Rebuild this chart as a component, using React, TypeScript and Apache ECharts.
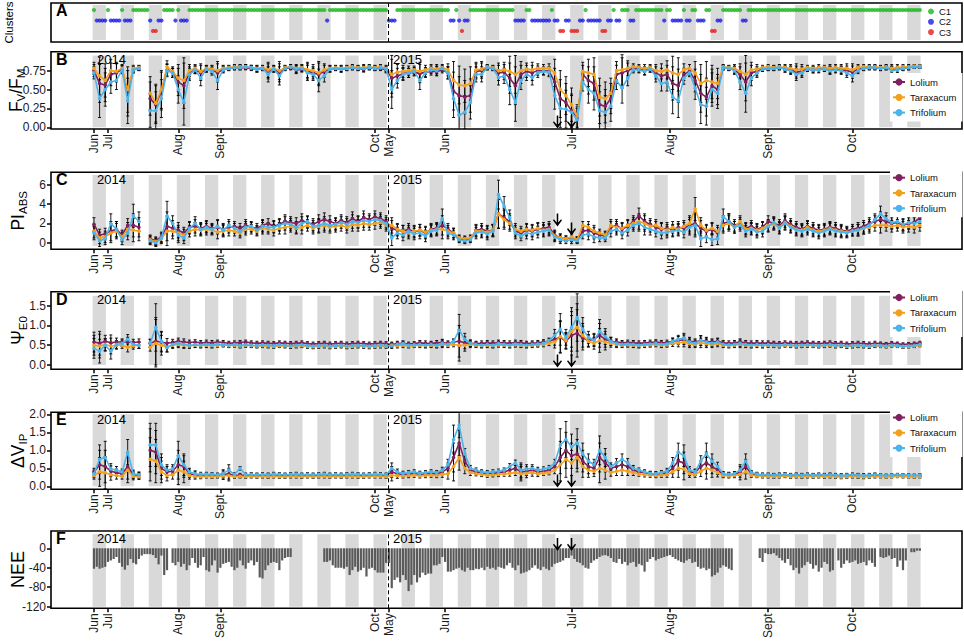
import React, { useEffect, useRef } from "react";
import * as echarts from "echarts";

const FONT = "'Liberation Sans', Arial, Helvetica, sans-serif";

// ---------- axis / category data ----------
// x = index of measurement day (0..294); line panels are read on every 2nd day
const monthTickIdx = [0, 5, 30, 45, 100, 105, 125, 170, 205, 240, 270];
const monthTickLabels = ["Jun", "Jul", "Aug", "Sept", "Oct", "May", "Jun", "Jul", "Aug", "Sept", "Oct"];
const yearBreakIdx = 104.6;
const arrowIdx = [165, 170];
const species = ["Lolium", "Taraxacum", "Trifolium"];
const speciesColors = ["#80205E", "#F3A01D", "#4DB4EA"];
const clusterNames = ["C1", "C2", "C3"];
const clusterColors = ["#1CB81C", "#1C1CE8", "#E81C1C"];
// [cluster, number of consecutive days]
const clusterRuns = [
  [1, 1], [2, 4], [1, 1], [2, 4], [1, 1], [2, 3], [1, 6], [2, 1], [3, 2], [2, 2], [1, 4], [2, 1], [1, 1], [2, 3],
  [1, 49], [2, 1], [1, 21], [2, 3], [1, 19], [2, 2], [1, 1], [2, 1], [3, 1], [2, 2], [1, 16], [2, 4], [1, 2],
  [2, 7], [1, 1], [2, 2], [3, 2], [2, 2], [3, 3], [2, 2], [1, 1], [2, 5], [3, 2], [2, 2], [1, 1], [2, 2], [1, 3],
  [2, 2], [1, 10], [2, 1], [1, 2], [2, 4], [1, 1], [2, 2], [1, 2], [2, 3], [1, 2], [3, 2], [2, 2], [1, 7], [2, 2],
  [1, 62],
];

// ---------- B: Fv/Fm (x100) ----------
const fvfmLolium = [75,58,56,70,72,77,45,76,78,null,38,30,48,76,72,60,55,72,76,72,77,76,72,77,78,79,79,79,78,77,78,74,77,72,78,79,76,77,74,72,70,74,77,78,77,78,79,78,77,79,78,78,76,65,68,71,72,73,71,73,74,74,76,72,48,42,40,42,74,75,79,78,72,73,65,55,70,74,72,75,75,74,60,38,33,22,12,70,62,58,30,28,38,70,72,75,78,77,75,77,72,68,70,58,55,70,74,62,45,40,55,50,79,78,76,70,60,72,74,77,78,78,79,77,76,73,74,77,76,77,77,76,77,76,75,73,77,78,79,79,78,79,76,77,78,79,80,80];
const fvfmTaraxacum = [78,68,62,75,74,78,50,78,79,null,45,32,50,80,74,65,62,75,78,74,78,77,75,78,79,80,80,80,79,78,79,76,78,75,79,80,78,79,76,75,72,76,78,79,78,79,80,79,79,80,79,80,78,70,73,74,75,76,74,76,78,77,79,76,62,56,55,58,76,77,80,79,75,76,74,70,75,77,76,78,78,78,72,50,42,30,15,74,72,70,40,38,45,75,76,78,80,79,78,79,75,74,76,72,70,76,78,72,58,62,60,58,80,79,78,74,70,76,77,79,80,79,80,79,78,76,77,79,78,79,79,78,79,78,78,76,79,80,80,80,79,80,78,79,80,80,81,81];
const fvfmTrifolium = [72,38,50,60,62,76,35,76,78,null,22,22,38,75,72,50,33,70,76,65,77,74,62,76,78,79,79,80,79,77,78,70,77,68,78,80,77,78,72,70,62,68,77,78,77,78,79,78,78,79,78,79,77,50,62,70,72,74,62,72,76,75,78,72,38,16,20,33,70,70,79,78,66,68,50,33,62,70,66,72,74,73,42,25,24,20,10,60,50,45,22,20,28,62,52,65,76,76,74,77,68,58,60,40,35,65,72,52,30,28,50,45,79,78,75,60,45,65,72,77,78,78,79,77,75,70,72,77,76,76,77,75,76,75,72,68,75,78,79,79,78,79,75,76,78,79,80,80];
const fvfmErr = [8,25,22,15,12,5,30,4,3,3,22,25,25,8,6,18,30,8,5,10,4,5,12,4,3,3,3,3,3,4,3,10,4,12,3,3,5,4,10,8,15,8,4,3,4,3,3,3,4,3,3,3,4,25,10,8,6,5,12,6,5,6,4,8,25,25,22,22,10,10,3,3,10,10,20,25,12,8,10,6,5,6,18,25,25,22,15,12,18,22,25,22,20,12,20,10,4,4,5,4,8,10,12,22,22,8,5,15,25,25,22,20,3,3,5,10,25,10,6,3,3,3,3,4,5,8,6,3,4,4,3,5,4,5,6,8,4,3,3,3,3,3,5,4,3,3,2,2];

// ---------- C: PI_ABS (x10) ----------
const piLolium = [19,8,9,12,14,8,18,18,16,null,4,2,6,17,15,13,10,16,17,15,17,15,16,14,16,17,15,18,16,15,18,20,17,19,22,21,20,23,21,19,22,24,22,20,23,21,25,22,26,24,27,25,22,15,13,12,14,11,13,10,14,15,18,14,10,4,3,4,13,14,12,13,30,26,22,12,10,13,12,14,15,16,8,5,4,5,3,12,13,10,8,7,16,18,14,17,22,28,22,19,16,14,15,13,16,15,18,20,15,12,14,10,20,22,18,20,15,17,14,16,22,20,18,23,19,16,14,17,15,13,14,16,15,13,12,14,15,17,20,22,24,22,20,21,18,20,21,26];
const piTaraxacum = [12,5,6,10,12,6,14,13,12,null,3,1,4,12,12,10,8,12,14,13,14,13,11,12,13,12,10,14,14,12,15,14,13,15,16,17,15,16,18,15,17,18,16,17,18,16,19,18,20,19,20,21,18,18,14,12,10,12,13,11,13,14,14,12,10,5,4,5,12,12,11,13,30,24,20,14,12,14,13,15,13,14,7,5,4,6,3,18,16,12,10,8,18,16,15,18,20,22,20,17,18,15,13,16,14,17,20,35,18,13,15,12,18,20,16,22,14,15,13,15,18,19,16,21,17,14,13,16,13,12,13,15,13,12,11,12,13,15,16,18,18,18,17,18,16,17,16,18];
const piTrifolium = [10,2,4,20,14,3,10,28,22,null,2,0,5,28,20,8,5,15,20,14,16,14,17,13,18,15,12,16,17,13,17,16,16,18,20,19,16,20,22,17,18,20,18,19,21,19,22,21,23,22,24,23,20,5,10,8,12,9,10,7,12,13,25,10,8,3,2,3,10,11,9,12,50,38,26,10,7,10,9,11,12,13,6,3,2,3,2,8,9,6,5,5,12,14,10,13,18,20,16,14,12,10,11,12,13,11,16,18,4,6,3,4,27,22,16,18,12,14,11,12,17,21,15,20,16,13,12,14,12,10,12,14,12,11,10,12,13,15,18,24,30,25,21,22,19,21,20,22];
const piErr = [7,6,6,10,8,5,7,12,10,14,4,4,5,15,8,8,6,6,7,6,6,5,7,6,6,5,5,6,5,5,6,5,6,6,7,6,6,7,6,6,7,7,6,6,6,6,7,6,7,6,6,6,6,8,6,6,6,6,6,6,6,6,10,6,5,3,3,3,6,6,6,6,15,10,8,6,5,6,6,6,6,6,5,4,3,4,3,4,6,6,4,4,6,6,6,6,6,8,8,6,6,6,6,6,6,6,8,12,8,6,6,6,8,8,6,6,6,6,6,6,6,6,6,7,6,6,6,6,6,6,6,6,6,6,5,5,6,6,6,6,8,6,6,6,6,6,6,6];

// ---------- D: Psi_E0 (x100) ----------
const psiLolium = [58,55,60,56,58,58,58,57,58,null,55,60,58,55,57,60,58,57,58,56,57,56,58,57,55,56,57,58,56,55,56,55,54,56,55,54,55,56,54,53,54,55,53,54,55,53,54,55,54,53,54,55,54,52,54,55,53,54,56,55,54,56,57,55,58,60,56,55,54,55,56,55,57,56,55,57,56,54,55,56,58,60,65,70,60,75,80,68,62,65,75,65,60,58,56,57,56,55,56,57,58,56,57,60,62,64,60,58,62,60,58,60,56,55,56,58,56,55,56,55,56,55,54,56,55,54,55,56,55,54,55,56,54,55,53,54,55,54,53,55,54,53,55,54,52,53,54,56];
const psiTaraxacum = [50,48,52,48,50,50,45,48,50,null,45,55,50,45,50,52,50,48,50,49,50,49,50,51,49,50,48,50,49,48,49,48,47,49,48,47,48,49,47,46,47,48,46,47,48,46,47,48,47,46,47,48,47,50,49,50,48,49,50,49,50,49,52,50,52,50,50,52,50,49,50,49,51,50,49,51,50,49,50,51,52,55,58,72,62,85,95,75,60,55,62,58,55,52,50,51,50,49,50,51,52,50,51,55,56,58,54,52,56,54,52,54,50,49,50,52,50,49,50,49,50,49,48,50,49,48,49,50,49,48,49,50,48,49,47,48,49,48,47,49,48,47,49,48,46,47,48,50];
const psiTrifolium = [42,35,50,35,52,55,65,52,50,null,55,95,60,45,52,55,52,50,51,50,52,50,53,51,50,52,49,51,50,49,51,50,49,51,50,48,50,51,49,48,49,50,48,49,50,48,49,50,49,48,49,50,49,48,52,54,50,51,52,50,52,50,55,52,60,88,65,55,52,50,52,50,54,52,50,53,52,50,52,53,55,62,75,90,70,95,120,90,70,62,85,72,60,55,52,53,52,50,52,53,55,52,53,60,65,68,58,55,62,58,55,58,52,51,52,55,52,50,52,50,51,50,49,52,50,49,50,51,50,49,50,52,49,50,48,49,50,49,48,50,49,48,50,49,47,48,49,52];
const psiErr = [25,30,15,20,10,8,12,8,8,10,10,60,25,12,8,8,8,6,6,6,6,6,5,5,5,5,5,5,5,5,5,5,5,5,5,5,5,5,5,5,5,5,5,5,5,5,5,5,5,5,5,5,5,6,6,6,5,5,6,6,6,6,8,6,6,40,15,8,6,6,6,6,6,6,6,6,6,6,6,6,6,6,15,40,20,50,60,30,15,15,30,20,10,8,6,6,6,6,6,6,6,6,6,8,10,12,10,8,12,10,8,8,6,6,6,8,6,6,6,6,5,5,5,5,5,5,5,5,5,5,5,5,5,5,5,5,5,5,5,5,4,4,4,4,4,4,4,4];

// ---------- E: Delta V_IP (x100) ----------
const dvLolium = [40,60,55,42,38,35,55,32,30,null,100,95,50,40,42,60,55,35,32,30,32,31,30,33,35,30,31,30,31,30,31,30,32,31,30,31,32,30,31,30,31,32,30,31,30,31,32,31,30,31,32,31,30,40,35,33,34,36,33,35,36,34,40,50,80,120,70,45,40,38,35,36,38,40,45,50,40,42,45,40,42,45,55,80,100,85,90,70,55,50,80,65,50,55,60,55,45,40,38,35,33,35,38,50,70,65,40,38,55,65,55,45,33,32,33,40,55,35,32,31,31,30,31,32,30,31,30,31,30,31,30,31,30,29,30,31,30,29,30,31,30,29,30,31,30,30,29,30];
const dvTaraxacum = [30,40,38,32,30,28,45,28,27,null,75,70,40,30,32,45,40,30,28,27,28,27,28,29,30,27,28,27,28,27,28,27,28,27,27,28,28,27,28,27,28,28,27,28,27,28,28,27,27,28,28,28,27,30,30,29,30,31,29,30,31,30,33,35,55,80,50,38,35,33,31,32,33,34,36,38,35,36,38,35,36,38,45,60,75,65,80,55,45,42,50,45,38,42,45,42,38,34,32,31,30,31,33,40,50,48,35,33,42,50,45,38,30,29,30,33,40,31,29,28,28,27,28,29,27,28,27,28,27,28,27,28,27,26,27,28,27,26,27,28,27,26,27,28,27,27,26,27];
const dvTrifolium = [35,75,80,48,45,40,95,35,32,null,115,115,60,45,48,85,60,40,35,33,34,33,32,36,45,33,50,32,33,32,33,32,34,33,32,33,34,32,33,32,33,34,32,33,32,33,34,33,32,33,34,33,32,50,40,36,38,40,36,38,40,38,45,60,130,170,90,50,45,40,38,40,42,45,55,65,45,48,50,45,48,52,65,115,130,110,120,90,70,60,100,80,55,65,75,65,50,45,40,36,35,38,42,65,95,85,45,40,70,90,70,55,35,33,35,45,70,38,34,32,32,31,32,33,31,32,31,32,31,32,31,32,31,30,31,32,31,30,31,32,31,30,31,32,31,31,30,31];
const dvErr = [10,40,45,15,10,8,35,10,8,8,60,60,30,15,12,40,30,10,8,6,5,5,5,10,15,5,5,5,5,5,5,5,5,5,5,5,5,5,5,5,5,5,5,5,5,5,5,5,5,5,5,5,5,15,8,6,6,6,6,6,6,6,8,15,40,35,15,8,6,6,6,6,6,6,8,8,20,12,10,8,6,6,10,45,50,35,40,30,20,15,40,25,10,12,15,12,8,6,6,6,6,6,8,15,25,30,10,8,15,30,20,12,6,6,6,15,20,6,5,5,5,5,5,5,5,5,5,5,5,5,5,5,5,5,5,5,5,5,5,5,4,4,4,4,4,4,4,4];

// ---------- F: NEE, every day ----------
const neeValues = [
  -42,-38,-42,-40,-38,-28,-25,-22,-18,-30, -38,-44,-35,-22,-30,-33,-22,-15,-12,-12,
  -12,-14,-20,-33,-15,-55,-45,null,-30,-35, -28,-38,-32,-45,-35,-20,-30,-40,-35,-18,
  -45,-48,-35,-25,-50,-40,-32,-30,-28,-38, -45,-40,-25,-35,-42,-30,-25,-35,-28,-60,
  -62,-45,-35,-30,-28,-30,-45,-25,-20,-18, -18,null,null,null,null,null,null,null,null,null,
  null,null,-28,-28,-25,-35,-40,-40,-40,-42, -38,-55,-45,-38,-48,-45,-40,-58,-42,-40,
  -45,-50,-50,-50,-30,-30,-82,-65,-60,-70, -55,-65,-88,-75,-55,-70,-60,-50,-55,-52,
  -52,-35,-35,-32,-18,-28,-48,-48,-45,-42, -40,-45,-48,-40,-45,-45,-42,-43,-40,-45,
  -38,-42,-40,-44,-38,-40,-42,-35,-30,-40, -45,-35,-52,-50,-48,-45,-40,-35,-42,-45,
  -38,-42,-45,-38,-32,-30,-28,-25,-20,-20, -15,-22,-28,-30,-35,-40,-42,-30,-25,-22,
  -18,-15,-14,-16,-20,-28,-30,-22,-32,-28, -35,-30,-28,-38,-32,-35,-48,-28,-22,-18,
  -25,-22,-20,-18,-16,-14,-18,-22,-25,-28, -30,-25,-22,-30,-28,-38,-42,-40,-45,-42,
  -58,-55,-50,-40,-35,-38,-42,-45,null,null, null,null,null,null,null,null,null,-20,-28,-10,
  -12,-12,-10,-15,-20,-25,-30,-22,-35,-45, -40,-52,-40,-35,-28,-32,-42,-35,-48,-40,
  -28,-32,-48,-45,null,-25,-40,-32,-25,-30, -28,-25,-32,-30,-28,-35,-25,-30,-38,null,
  -18,-20,-18,-15,-22,-20,-38,-25,-45,-25, null,-8,-8,-5,-5,
];

// ---------- layout ----------
const XMIN = -15.3;
const XMAX = 309;
const GL = 51;
const GW = 911;
const ARROW = "path://M-0.8,0 L0.8,0 L0.8,8 L3.6,5 L4.6,6 L0,11.5 L-4.6,6 L-3.6,5 L-0.8,8 Z";

const linePanels = [
  { letter: "B", top: 51.7, height: 77.3, min: -0.022, max: 1.0, ticks: [0, 0.25, 0.5, 0.75], dec: 2, scale: 100,
    data: [fvfmLolium, fvfmTaraxacum, fvfmTrifolium], err: fvfmErr, title: "{m|F}{s|V}{m|/F}{s|M}", titleX: 16,
    legendTop: 73, band: [0, 0.95], arrowY: [0.07, 0.07] },
  { letter: "C", top: 172.3, height: 77, min: -0.69, max: 7.32, ticks: [0, 2, 4, 6], dec: 0, scale: 10,
    data: [piLolium, piTaraxacum, piTrifolium], err: piErr, title: "{m|PI}{s|ABS}", titleX: 18,
    legendTop: 168.7, band: [-0.35, 7.05], arrowY: [2.36, 1.43] },
  { letter: "D", top: 291.7, height: 77.6, min: -0.109, max: 1.854, ticks: [0, 0.5, 1, 1.5], dec: 1, scale: 100,
    data: [psiLolium, psiTaraxacum, psiTrifolium], err: psiErr, title: "{m|Ψ}{s|E0}", titleX: 18,
    legendTop: 288.5, band: [0, 1.75], arrowY: [0.1, 0.1] },
  { letter: "E", top: 412.3, height: 77, min: -0.083, max: 2.056, ticks: [0, 0.5, 1, 1.5, 2], dec: 1, scale: 100,
    data: [dvLolium, dvTaraxacum, dvTrifolium], err: dvErr, title: "{m|ΔV}{s|IP}", titleX: 18,
    legendTop: 408.5, band: [0, 2.0], arrowY: [0.147, 0.147] },
];

const titleRich = {
  m: { fontSize: 17.5, fontFamily: FONT, fill: "#000", lineHeight: 22 },
  s: { fontSize: 11.5, fontFamily: FONT, fill: "#000", lineHeight: 5, verticalAlign: "bottom" },
};

function buildOption() {
  const grids: any[] = [];
  const xAxes: any[] = [];
  const yAxes: any[] = [];
  const series: any[] = [];
  const legends: any[] = [];
  const graphics: any[] = [];

  const bandSpans: number[][] = [];
  for (let k = 0; k < 30; k++) bandSpans.push([10 * k - 0.5, 10 * k + 4.25]);

  const addGrid = (top: number, height: number) => {
    grids.push({ left: GL, top, width: GW, height, show: true, borderColor: "#000", borderWidth: 1.6, backgroundColor: "#fff" });
  };
  const xAxisFor = (g: number, labels: boolean) => ({
    gridIndex: g, type: "value", min: XMIN, max: XMAX,
    axisLine: { show: false, onZero: false }, splitLine: { show: false },
    axisTick: { show: labels, customValues: monthTickIdx, length: 4, lineStyle: { color: "#000", width: 1.5 } },
    axisLabel: {
      show: labels, customValues: monthTickIdx, rotate: 90, margin: 5, fontSize: 12, color: "#1a1a1a", fontFamily: FONT,
      align: "right", verticalAlign: "middle",
      formatter: (v: number) => { const i = monthTickIdx.indexOf(Math.round(v)); return i >= 0 ? monthTickLabels[i] : ""; },
    },
  });
  const yAxisBase = (g: number, min: number, max: number, ticks: number[], fmt: (v: number) => string) => ({
    gridIndex: g, type: "value", min, max,
    axisLine: { show: false, onZero: false }, splitLine: { show: false },
    axisTick: { show: true, customValues: ticks, length: 4, lineStyle: { color: "#000", width: 1.5 } },
    axisLabel: { customValues: ticks, margin: 5, fontSize: 12, color: "#1a1a1a", fontFamily: FONT, align: "right", verticalAlign: "middle", formatter: fmt },
  });
  const bandSeries = (g: number, y0: number, y1: number) => ({
    type: "custom", xAxisIndex: g, yAxisIndex: g, z: 1, silent: true, clip: true,
    data: bandSpans.map((s) => [s[0], s[1], y0, y1]), encode: { x: [0, 1], y: [2, 3] },
    renderItem: (params: any, api: any) => {
      const a = api.coord([api.value(0), api.value(3)]);
      const b = api.coord([api.value(1), api.value(2)]);
      return { type: "rect", shape: { x: a[0], y: a[1], width: b[0] - a[0], height: b[1] - a[1] }, style: { fill: "#d9d9d9" } };
    },
    markLine: {
      silent: true, symbol: ["none", "none"], label: { show: false }, animation: false,
      lineStyle: { type: [4, 3], color: "#000", width: 1 }, data: [{ xAxis: yearBreakIdx }],
    },
  });
  const arrowMark = (ys: number[]) => ({
    symbol: ARROW, symbolSize: [9, 13], silent: true, z: 10, itemStyle: { color: "#000" }, label: { show: false },
    data: arrowIdx.map((x, i) => ({ coord: [x, ys[i]] })),
  });
  const letterText = (letter: string, top: number) =>
    graphics.push({ type: "text", left: 56, top: top - 0.5, z: 100, style: { text: letter, fontSize: 16, fontWeight: "bold", fontFamily: FONT, fill: "#000" } });
  const yearTexts = (top: number) => {
    graphics.push({ type: "text", left: 97, top: top + 1, z: 100, style: { text: "2014", fontSize: 13, fontFamily: FONT, fill: "#000" } });
    graphics.push({ type: "text", left: 393, top: top + 1, z: 100, style: { text: "2015", fontSize: 13, fontFamily: FONT, fill: "#000" } });
  };
  const yTitle = (text: string, cx: number, cy: number, extra: any) =>
    graphics.push({
      type: "text", x: cx, y: cy, rotation: Math.PI / 2, z: 100,
      style: { text, align: "center", verticalAlign: "middle", fontFamily: FONT, fill: "#000", ...extra },
    });

  // ---- A: clusters ----
  addGrid(3, 39);
  xAxes.push(xAxisFor(0, false));
  yAxes.push({
    gridIndex: 0, type: "value", min: -0.05, max: 3.67,
    axisLine: { show: false, onZero: false }, axisTick: { show: false }, axisLabel: { show: false }, splitLine: { show: false },
  });
  yTitle("Clusters", 9, 22.5, { fontSize: 11.5 });
  series.push(bandSeries(0, 0.14, 3.48));
  const days: number[] = [];
  clusterRuns.forEach(([c, n]) => { for (let i = 0; i < n; i++) days.push(c); });
  clusterNames.forEach((nm, ci) => {
    series.push({
      type: "scatter", name: nm, xAxisIndex: 0, yAxisIndex: 0, z: 3, silent: true, symbolSize: 4.2,
      itemStyle: { color: clusterColors[ci] },
      data: days.map((c, i) => (c === ci + 1 ? [i, 3 - ci] : null)).filter((d) => d !== null),
    });
  });
  legends.push({
    orient: "vertical", left: 928, top: 6.5, itemWidth: 6, itemHeight: 6, itemGap: 0.3, icon: "circle", padding: 0,
    selectedMode: false, data: clusterNames, textStyle: { fontSize: 9.5, lineHeight: 10, color: "#111", fontFamily: FONT },
  });
  letterText("A", 3);

  // ---- B..E: line panels ----
  const renderErr = (params: any, api: any) => {
    const x = api.value(0);
    const a = api.coord([x, api.value(1)]);
    const b = api.coord([x, api.value(2)]);
    const w = 1.5;
    const st = { stroke: "#000", lineWidth: 0.9 };
    return {
      type: "group",
      children: [
        { type: "line", shape: { x1: a[0], y1: a[1], x2: b[0], y2: b[1] }, style: st },
        { type: "line", shape: { x1: a[0] - w, y1: a[1], x2: a[0] + w, y2: a[1] }, style: st },
        { type: "line", shape: { x1: b[0] - w, y1: b[1], x2: b[0] + w, y2: b[1] }, style: st },
      ],
    };
  };

  linePanels.forEach((p, pi) => {
    const g = pi + 1;
    addGrid(p.top, p.height);
    xAxes.push(xAxisFor(g, true));
    yAxes.push(yAxisBase(g, p.min, p.max, p.ticks, (v: number) => v.toFixed(p.dec)));
    yTitle(p.title, p.titleX, p.top + p.height / 2, { rich: titleRich });
    series.push(bandSeries(g, p.band[0], p.band[1]));
    p.data.forEach((arr) => {
      const ed: number[][] = [];
      arr.forEach((m, j) => { if (m !== null) ed.push([2 * j, (m - p.err[j]) / p.scale, (m + p.err[j]) / p.scale]); });
      series.push({ type: "custom", xAxisIndex: g, yAxisIndex: g, z: 2, silent: true, clip: true, data: ed, encode: { x: 0, y: [1, 2] }, renderItem: renderErr });
    });
    p.data.forEach((arr, si) => {
      const s: any = {
        type: "line", name: species[si], xAxisIndex: g, yAxisIndex: g, z: 3 + si, silent: true,
        symbol: "circle", symbolSize: 3.6, showSymbol: true, connectNulls: false,
        lineStyle: { width: 1.6, color: speciesColors[si] }, itemStyle: { color: speciesColors[si] },
        data: arr.map((v, j) => [2 * j, v === null ? "-" : v / p.scale]),
      };
      if (si === 2) s.markPoint = arrowMark(p.arrowY);
      series.push(s);
    });
    legends.push({
      orient: "vertical", left: 890, top: p.legendTop, itemWidth: 12, itemHeight: 9, itemGap: 3.3,
      padding: [3, 6, 3, 2], backgroundColor: "#fff", selectedMode: false, data: species,
      textStyle: { fontSize: 9.5, lineHeight: 12, color: "#111", fontFamily: FONT },
    });
    letterText(p.letter, p.top);
    yearTexts(p.top);
  });

  // ---- F: NEE ----
  const gF = 5;
  addGrid(531, 77.3);
  xAxes.push(xAxisFor(gF, true));
  yAxes.push(yAxisBase(gF, -123.3, 35.5, [-120, -80, -40, 0], (v: number) => String(v)));
  yTitle("NEE", 18, 569.6, { fontSize: 18 });
  series.push(bandSeries(gF, -120, 28.7));
  series.push({
    type: "bar", name: "NEE", xAxisIndex: gF, yAxisIndex: gF, z: 3, silent: true, barWidth: 2.2,
    itemStyle: { color: "#5a5a5a" },
    data: neeValues.map((v, i) => [i, v === null ? "-" : v]),
    markPoint: arrowMark([7.8, 7.8]),
  });
  letterText("F", 531);
  yearTexts(531);

  return {
    animation: false,
    backgroundColor: "#fff",
    textStyle: { fontFamily: FONT },
    grid: grids,
    xAxis: xAxes,
    yAxis: yAxes,
    legend: legends,
    series,
    graphic: graphics,
  };
}

export default function App() {
  const ref = useRef<HTMLDivElement>(null);
  useEffect(() => {
    document.body.style.margin = "0";
    const chart = echarts.init(ref.current as HTMLDivElement, undefined, { renderer: "svg" });
    chart.setOption(buildOption() as any);
    return () => chart.dispose();
  }, []);
  return <div ref={ref} style={{ width: 964, height: 643 }} />;
}
